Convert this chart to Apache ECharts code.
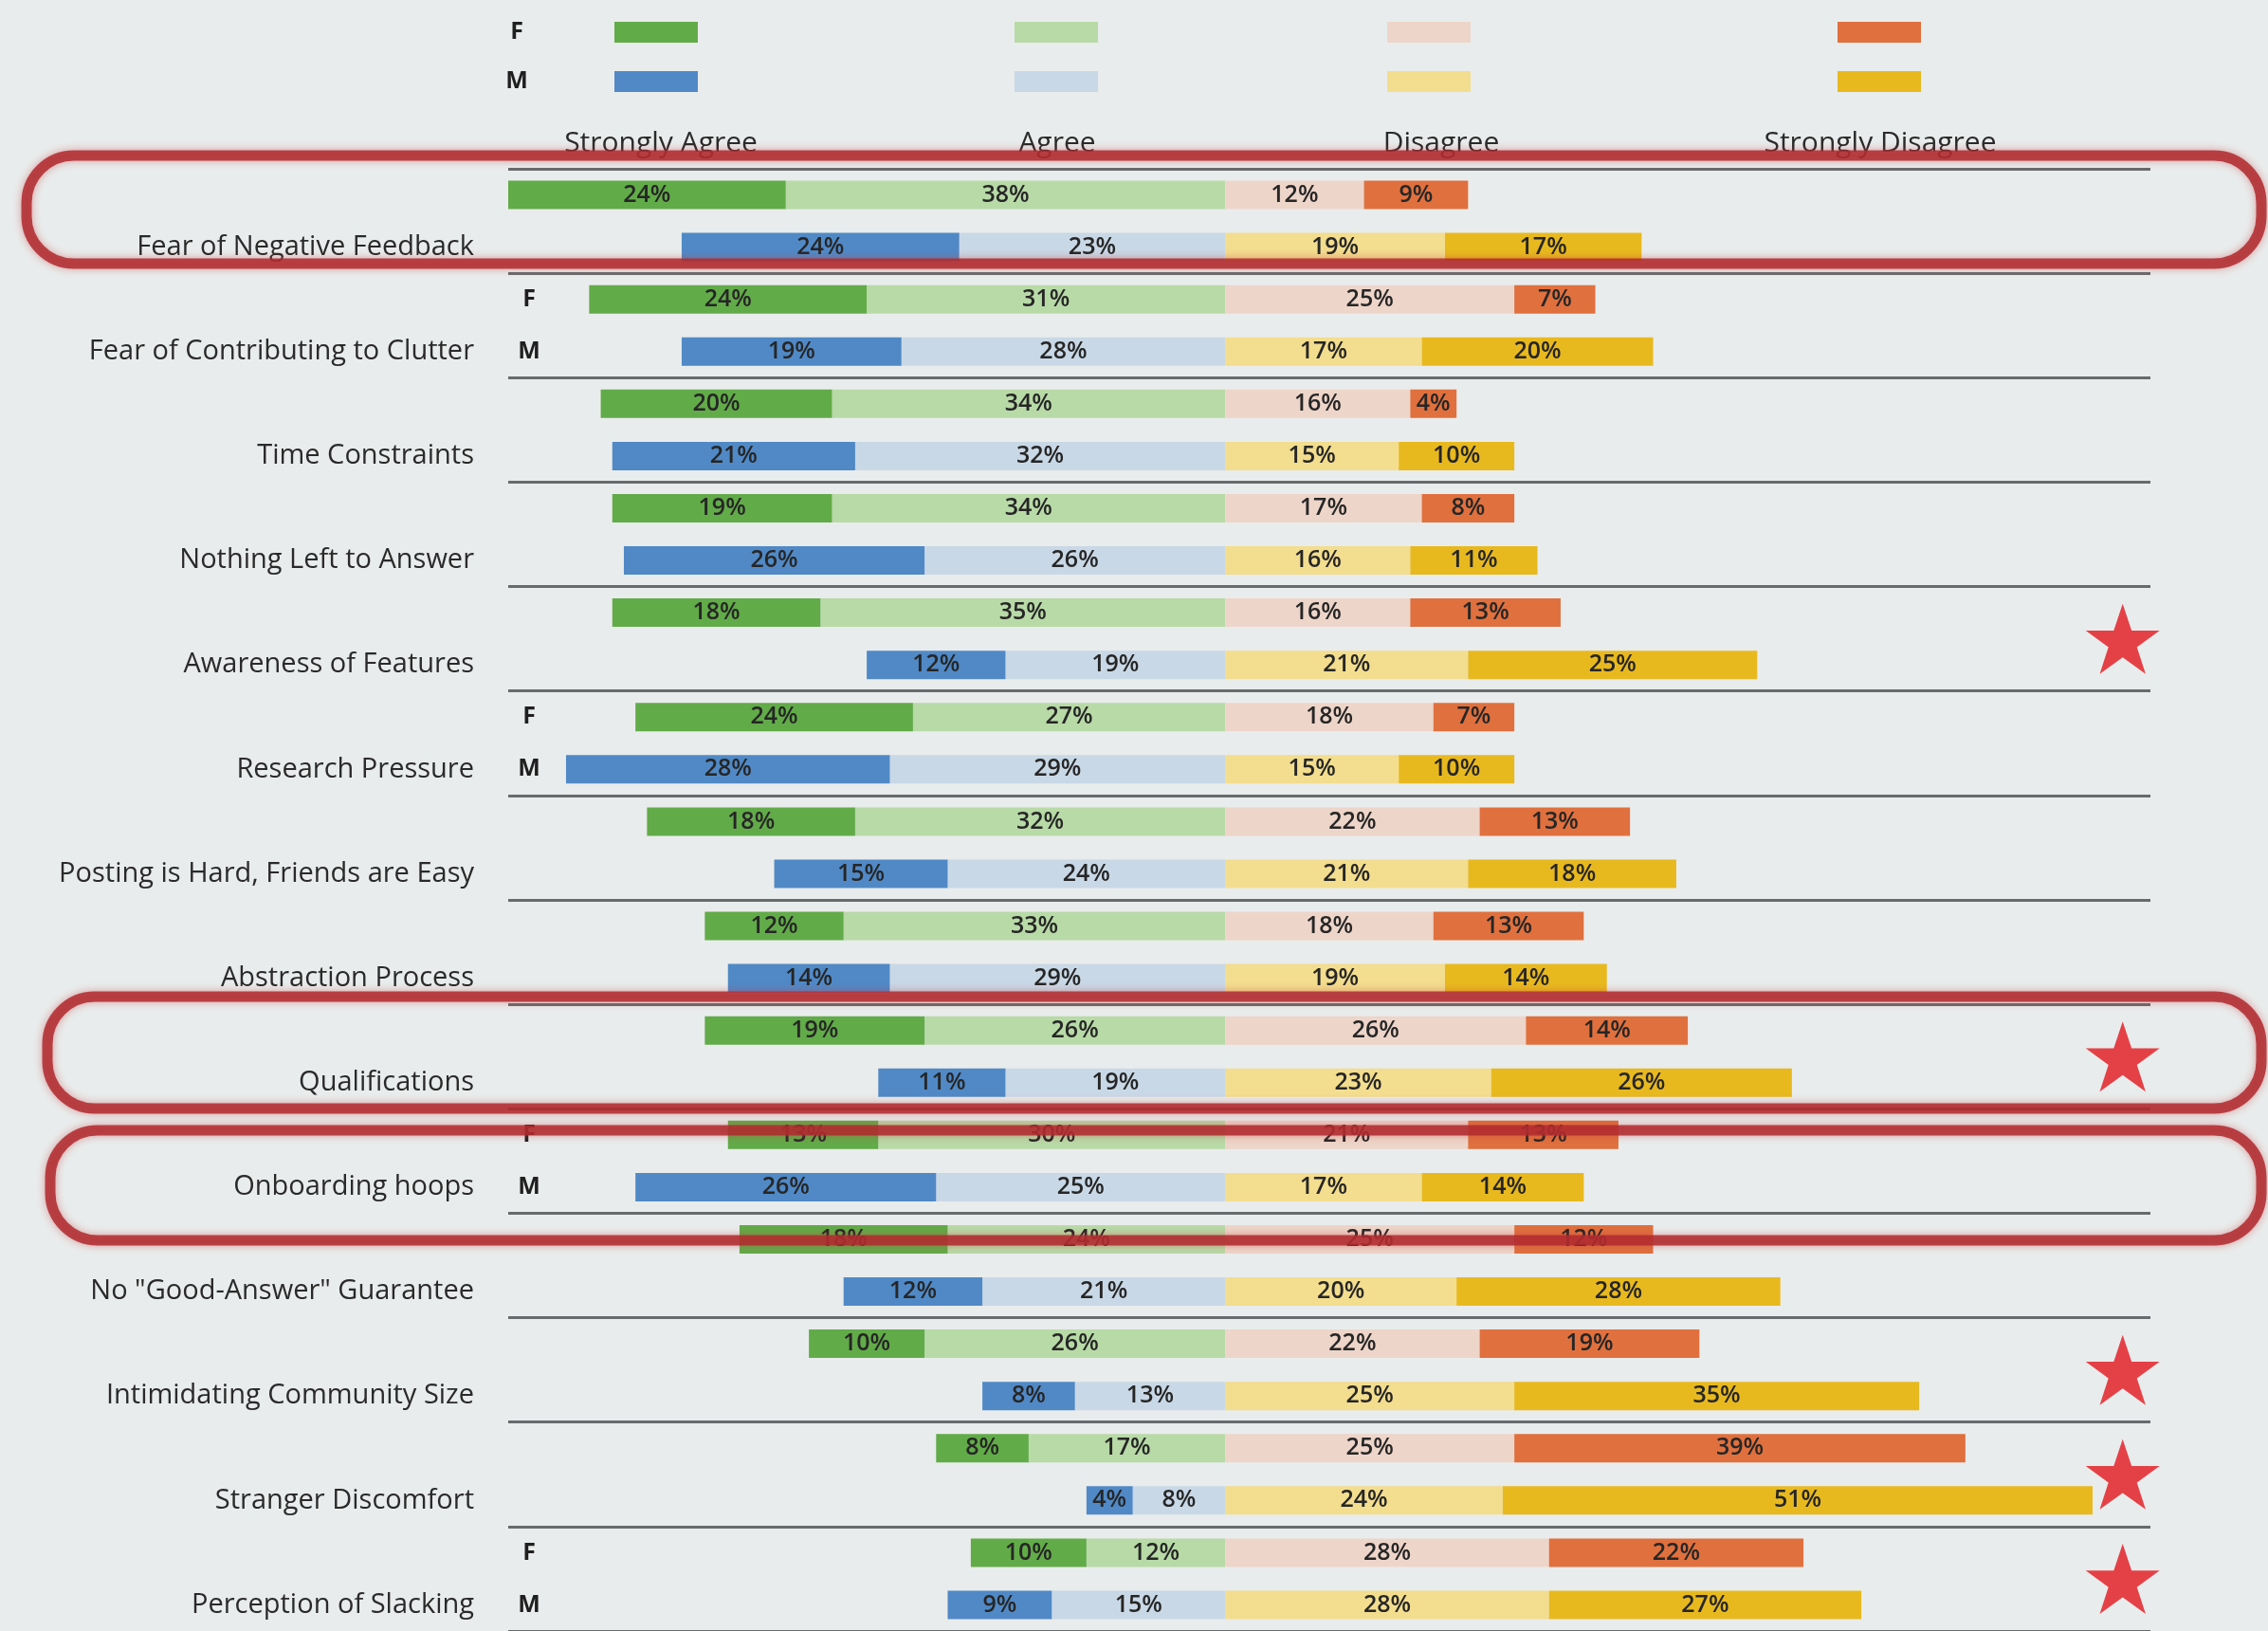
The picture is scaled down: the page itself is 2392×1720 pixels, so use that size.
<!DOCTYPE html>
<html>
<head>
<meta charset="utf-8">
<script src="https://cdn.jsdelivr.net/npm/echarts@6/dist/echarts.min.js"></script>
<style>
  html, body { margin: 0; padding: 0; background: #e9ecec; }
  #chart { width: 2392px; height: 1720px; }
</style>
</head>
<body>
<div id="chart"></div>
<script>
// Survey topics, top to bottom
const topics = [
  'Fear of Negative Feedback',
  'Fear of Contributing to Clutter',
  'Time Constraints',
  'Nothing Left to Answer',
  'Awareness of Features',
  'Research Pressure',
  'Posting is Hard, Friends are Easy',
  'Abstraction Process',
  'Qualifications',
  'Onboarding hoops',
  'No "Good-Answer" Guarantee',
  'Intimidating Community Size',
  'Stranger Discomfort',
  'Perception of Slacking'
];

// Female responses (%)
const femaleStronglyAgree    = [24, 24, 20, 19, 18, 24, 18, 12, 19, 13, 18, 10,  8, 10];
const femaleAgree            = [38, 31, 34, 34, 35, 27, 32, 33, 26, 30, 24, 26, 17, 12];
const femaleDisagree         = [12, 25, 16, 17, 16, 18, 22, 18, 26, 21, 25, 22, 25, 28];
const femaleStronglyDisagree = [ 9,  7,  4,  8, 13,  7, 13, 13, 14, 13, 12, 19, 39, 22];

// Male responses (%)
const maleStronglyAgree    = [24, 19, 21, 26, 12, 28, 15, 14, 11, 26, 12,  8,  4,  9];
const maleAgree            = [23, 28, 32, 26, 19, 29, 24, 29, 19, 25, 21, 13,  8, 15];
const maleDisagree         = [19, 17, 15, 16, 21, 15, 21, 19, 23, 17, 20, 25, 24, 28];
const maleStronglyDisagree = [17, 20, 10, 11, 25, 10, 18, 14, 26, 14, 28, 35, 51, 27];

const responseLevels = ['Strongly Agree', 'Agree', 'Disagree', 'Strongly Disagree'];
const genders = ['F', 'M'];

// Topics whose rows carry explicit F / M tags, and topics flagged with a star
const genderTaggedTopics = ['Fear of Contributing to Clutter', 'Research Pressure', 'Onboarding hoops', 'Perception of Slacking'];
const starredTopics = ['Awareness of Features', 'Qualifications', 'Intimidating Community Size', 'Stranger Discomfort', 'Perception of Slacking'];

const palette = {
  F: ['#62ab49', '#b8daa7', '#eed5c9', '#e0703e'],
  M: ['#5089c6', '#c9d8e6', '#f3dd8e', '#e8b91f']
};

const byLevel = {
  F: [femaleStronglyAgree, femaleAgree, femaleDisagree, femaleStronglyDisagree],
  M: [maleStronglyAgree, maleAgree, maleDisagree, maleStronglyDisagree]
};

const FONT = "'Open Sans', 'Noto Sans', sans-serif";

// one axis row per topic and gender
const rowKeys = [];
topics.forEach(t => genders.forEach(g => rowKeys.push(t + '|' + g)));

// agree levels extend left of zero, disagree levels to the right
function levelData(level, sign) {
  return rowKeys.map((key, idx) => {
    const g = key.split('|')[1];
    const ti = Math.floor(idx / 2);
    return { value: sign * byLevel[g][level][ti], itemStyle: { color: palette[g][level] } };
  });
}

function barSeries(level, sign) {
  return {
    name: responseLevels[level],
    type: 'bar',
    stack: 'likert',
    barWidth: 30,
    data: levelData(level, sign),
    label: {
      show: true,
      position: 'inside',
      formatter: p => Math.abs(p.value) + '%',
      fontFamily: FONT,
      fontSize: 25,
      fontWeight: 600,
      color: '#262626'
    },
    emphasis: { disabled: true }
  };
}

const chart = echarts.init(document.getElementById('chart'), null, { renderer: 'canvas' });

// legend block: gender letters, colour swatches and level headings
const swatchX = [648, 1070, 1463, 1938];
const legendGraphics = [];
genders.forEach((g, gi) => {
  const cy = gi === 0 ? 34 : 86;
  legendGraphics.push({
    type: 'text', x: 545, y: cy, z: 10,
    style: { text: g, font: 'bold 25px ' + FONT, fill: '#1f1f1f', textAlign: 'center', textVerticalAlign: 'middle' }
  });
  swatchX.forEach((x, li) => {
    legendGraphics.push({
      type: 'rect', z: 10,
      shape: { x: x, y: cy - 11, width: 88, height: 22 },
      style: { fill: palette[g][li] }
    });
  });
});
const headerX = [697, 1115, 1520, 1983];
responseLevels.forEach((lvl, li) => {
  legendGraphics.push({
    type: 'text', x: headerX[li], y: 151, z: 10,
    style: { text: lvl, font: '30px ' + FONT, fill: '#2a2a2a', textAlign: 'center', textVerticalAlign: 'middle' }
  });
});

// red highlight frames
const frameStyle = {
  fill: 'none',
  stroke: 'rgba(176, 42, 46, 0.86)',
  lineWidth: 11,
  shadowBlur: 8,
  shadowColor: 'rgba(200, 60, 60, 0.55)'
};
const frames = [
  { x: 28, y: 164, width: 2357, height: 114 },
  { x: 50, y: 1051, width: 2335, height: 118 },
  { x: 53, y: 1192, width: 2332, height: 116 }
].map(s => ({ type: 'rect', z: 100, shape: Object.assign({ r: 50 }, s), style: frameStyle }));

const STAR_PATH = 'path://M50,0 L61.8,35.1 L98.8,35.1 L68.8,56.9 L80.3,91.9 L50,70.3 L19.7,91.9 L31.2,56.9 L1.2,35.1 L38.2,35.1 Z';
const STAR_X = 77.6;

const option = {
  backgroundColor: '#e9ecec',
  animation: false,
  grid: { left: 536, top: 178, width: 1732, height: 1546, containLabel: false },
  xAxis: { type: 'value', min: -62, max: 80, show: false },
  yAxis: [
    {
      type: 'category',
      data: rowKeys,
      inverse: true,
      axisLine: { show: false },
      axisTick: { show: false },
      splitLine: {
        show: true,
        interval: idx => idx % 2 === 0 && idx < rowKeys.length - 1,
        lineStyle: { color: '#686b6d', width: 3 }
      },
      axisLabel: {
        interval: 0,
        margin: -40,
        formatter: value => {
          const [topic, g] = value.split('|');
          const tag = genderTaggedTopics.includes(topic) ? g : ' ';
          const name = g === 'M' ? '{name|' + topic + '}{sp| }' : '';
          return name + '{tag|' + tag + '}';
        },
        rich: {
          name: { fontFamily: FONT, fontSize: 29, color: '#2a2a2a' },
          sp: { width: 40 },
          tag: { width: 36, align: 'center', fontFamily: FONT, fontSize: 25, fontWeight: 'bold', color: '#1f1f1f' }
        }
      }
    },
    { type: 'category', data: topics, inverse: true, show: false }
  ],
  series: [
    barSeries(1, -1),
    barSeries(0, -1),
    barSeries(2, 1),
    barSeries(3, 1),
    {
      type: 'scatter',
      yAxisIndex: 1,
      symbol: STAR_PATH,
      symbolSize: [78, 74],
      itemStyle: { color: '#e2161e' },
      z: 20,
      data: starredTopics.map(t => [STAR_X, t]),
      emphasis: { disabled: true }
    }
  ],
  graphic: legendGraphics.concat(frames)
};

chart.setOption(option);
</script>
</body>
</html>
